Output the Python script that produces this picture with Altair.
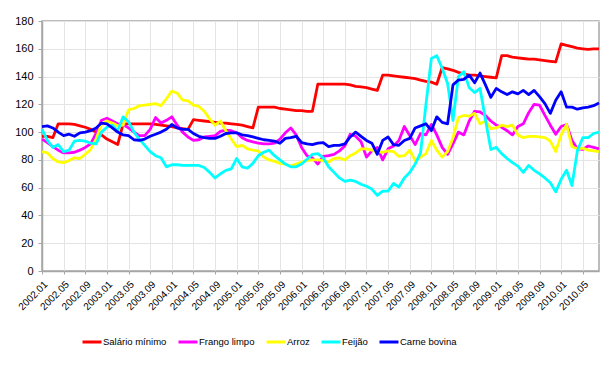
import altair as alt
import pandas as pd

# Monthly categories 2002.01 .. 2010.08
months = [f"{2002 + i // 12}.{i % 12 + 1:02d}" for i in range(104)]
tick_labels = months[::4]
y_ticks = [0, 20, 40, 60, 80, 100, 120, 140, 160, 180]

series_names = ["Salário mínimo", "Frango limpo", "Arroz", "Feijão", "Carne bovina"]
series_colors = ["#FF0000", "#FF00FF", "#FFFF00", "#00FFFF", "#0000FF"]

salario = [
    97, 97, 96, 106, 106, 106, 105.5, 104.5, 103.5, 102,
    100, 98, 95, 93, 91, 106, 106, 106, 106, 106,
    106, 105.5, 105, 104.5, 104, 103, 102.5, 102, 109, 108.5,
    108, 107.5, 107, 106.5, 106.5, 106, 105.5, 105, 104, 103,
    118, 118, 118, 118, 117, 116.5, 116, 115.5, 115.5, 115,
    115, 134.5, 134.5, 134.5, 134.5, 134.5, 134.5, 134, 133, 132.5,
    132, 131, 130, 141, 141, 140.5, 140, 139.5, 139, 138.5,
    137.5, 136.5, 136, 134.5, 146.5, 145.5, 144.5, 143, 142, 141,
    141, 140.5, 140, 139.5, 139, 155, 155, 154, 153.5, 153,
    152.5, 152.5, 152, 151.5, 151, 150.5, 163.5, 162.5, 161.5, 160.5,
    160, 159.5, 160, 160,
]

frango = [
    95, 92.5, 89.5, 87, 85, 85, 85.5, 87, 89, 91.5,
    99, 108.5, 110, 108, 106, 105.5, 103, 100, 97.5, 97.5,
    102, 110.5, 106.5, 108.5, 111, 105, 100, 96.5, 94, 94.5,
    96.5, 97, 97.5, 100.5, 101.5, 101, 99.5, 96, 94, 93,
    92, 91.5, 91.5, 92, 95, 99.5, 103, 98, 89, 83,
    81.5, 77, 82.5, 83, 84, 86.5, 90, 98.5, 97, 93,
    82, 86.5, 89, 80, 88, 90, 94, 104, 97.5, 91,
    99, 98, 105.5, 98, 89, 84, 91.5, 100, 98, 108,
    115, 114.5, 112, 108, 105, 103.5, 101, 98, 104, 106,
    114, 120, 119.5, 112, 105, 98.5, 104, 105.5, 94, 88,
    87.5, 90, 89, 88,
]

arroz = [
    86, 85, 81, 78.5, 78, 79.5, 81.5, 81, 84, 87.5,
    95, 105.5, 108, 106.5, 104.5, 105, 116, 117, 119, 119.5,
    120, 120.5, 119, 124, 129.5, 128, 123, 122.5, 119.5, 118.5,
    115, 109.5, 105, 108, 101, 95, 89.5, 90.5, 88, 87,
    86.5, 82, 80, 79, 77.5, 77, 75.5, 77, 78.5, 79.5,
    80, 80, 79.5, 78.5, 81, 81.5, 80, 83, 85, 88,
    88, 87, 86, 85.5, 86.5, 86, 82.5, 83, 87, 79.5,
    82, 84.5, 94, 87, 82, 86, 96, 110.5, 112, 111.5,
    113.5, 106, 108, 102.5, 103, 105, 104, 105, 98, 96,
    97, 97, 96.5, 96, 93.5, 86, 98, 105.5, 89.5, 88,
    88.5, 87, 86.5, 86,
]

feijao = [
    102, 94, 89, 91, 86, 87, 93.5, 94, 93.5, 92,
    91.5, 100, 103.5, 105, 101, 111, 107.5, 100, 95, 90.5,
    86, 83, 81.5, 75, 76.5, 76.5, 76, 76, 76, 76,
    74.5, 71, 67, 70, 72.5, 73.5, 81, 75, 74, 77.5,
    83, 85.5, 87, 83, 80, 77, 75, 75, 77, 80.5,
    84, 84.5, 81.5, 75, 71, 67, 64.5, 65.5, 64.5, 62.5,
    61, 59, 54.5, 57.5, 57.5, 63, 60.5, 67, 71, 77,
    85, 120, 153, 155, 146, 135, 108.5, 140, 143.5, 132,
    128.5, 131.5, 109, 87.5, 89, 84.5, 81, 78, 75.5, 71,
    76, 72.5, 70, 67, 63.5, 57, 66, 72.5, 61.5, 86.5,
    96, 96, 99, 100,
]

carne = [
    104, 104.5, 103, 100, 97.5, 98.5, 97, 99.5, 100, 101,
    103, 106.5, 106, 103, 100, 98, 97.5, 94.5, 94, 95,
    97, 98.5, 100, 102, 105.5, 103, 102, 102, 99, 97,
    96, 95.5, 95.5, 97, 99, 99.5, 99.5, 98, 97.5, 96.5,
    95.5, 94.5, 94, 93.5, 92, 95.5, 96, 97, 92.5, 91.5,
    91, 92, 92.5, 89.5, 90.5, 90.5, 91.5, 96.5, 100, 97,
    94, 92, 84, 94, 96.5, 91, 90.5, 94, 95.5, 103,
    104.5, 106, 101, 111, 107, 106, 134, 137.5, 138, 141,
    135.5, 142.5, 134, 125, 131.5, 129, 127, 129, 127.5, 130,
    127, 130, 125.5, 120.5, 113.5, 123, 129, 118, 118, 116.5,
    117.5, 118, 119, 121,
]

rows = []
for name, vals in zip(series_names, [salario, frango, arroz, feijao, carne]):
    for m, v in zip(months, vals):
        rows.append({"mes": m, "serie": name, "valor": v})
df = pd.DataFrame(rows)

FONT = "Liberation Sans"

chart = (
    alt.Chart(df)
    .mark_line(strokeWidth=2.8, strokeJoin="round")
    .encode(
        x=alt.X(
            "mes:O",
            sort=months,
            scale=alt.Scale(type="point", padding=0),
            axis=alt.Axis(
                values=tick_labels,
                labelAngle=-45,
                labelAlign="right",
                labelBaseline="top",
                labelFontSize=10,
                labelPadding=5,
                tickSize=3,
                title=None,
                grid=True,
            ),
        ),
        y=alt.Y(
            "valor:Q",
            scale=alt.Scale(domain=[0, 180], nice=False),
            axis=alt.Axis(
                values=y_ticks,
                labelFontSize=11,
                labelPadding=5,
                tickSize=4,
                title=None,
                grid=True,
            ),
        ),
        color=alt.Color(
            "serie:N",
            sort=series_names,
            scale=alt.Scale(domain=series_names, range=series_colors),
            legend=alt.Legend(
                title=None,
                orient="none",
                legendX=39,
                legendY=310,
                direction="horizontal",
                symbolType="stroke",
                symbolSize=360,
                symbolStrokeWidth=3,
                labelFontSize=9.5,
                labelFont=FONT,
                labelColor="black",
                labelOffset=0,
                columnPadding=5,
                gridAlign="each",
                padding=0,
            ),
        ),
    )
    .properties(
        width=557,
        height=250,
        padding={"left": 34, "top": 13, "right": 7, "bottom": 86},
        autosize=alt.AutoSizeParams(type="none"),
        background="white",
    )
    .configure_view(stroke="#a6a6a6", strokeWidth=1.5)
    .configure_axis(
        domainColor="#a6a6a6",
        domainWidth=1.5,
        tickColor="#a6a6a6",
        gridColor="#e4e4e4",
        gridWidth=1,
        labelColor="black",
        labelFont=FONT,
    )
)

chart.save("out.html", embed_options={"renderer": "svg", "actions": False})
